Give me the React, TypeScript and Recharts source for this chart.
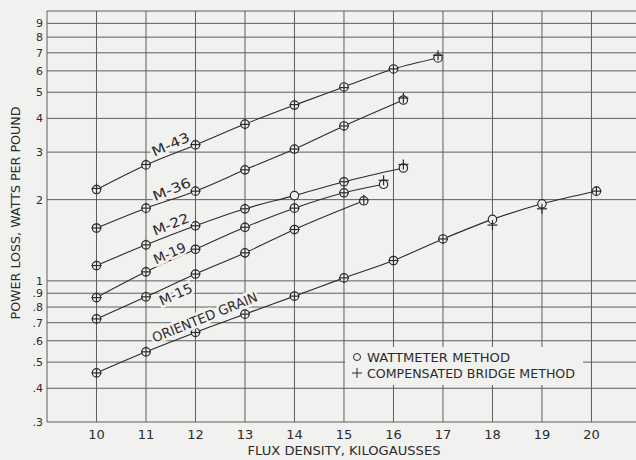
import React from 'react';
import {
  ComposedChart,
  Line,
  Scatter,
  XAxis,
  YAxis,
  ReferenceLine,
} from 'recharts';

// flux density (kilogausses) and power loss (watts per pound)
const fluxM43 = [10, 11, 12, 13, 14, 15, 16, 16.9];
const wattM43 = [2.18, 2.69, 3.19, 3.81, 4.48, 5.23, 6.1, 6.7];
const bridgeM43 = [2.2, 2.7, 3.2, 3.8, 4.5, 5.2, 6.1, 6.85];

const fluxM36 = [10, 11, 12, 13, 14, 15, 16.2];
const wattM36 = [1.57, 1.86, 2.15, 2.58, 3.08, 3.75, 4.68];
const bridgeM36 = [1.57, 1.86, 2.15, 2.58, 3.08, 3.75, 4.76];

const fluxM22 = [10, 11, 12, 13, 14, 15, 16.2];
const wattM22 = [1.14, 1.36, 1.6, 1.85, 2.07, 2.33, 2.62];
const bridgeM22 = [1.14, 1.36, 1.6, 1.85, null, 2.33, 2.7];

const fluxM19 = [10, 11, 12, 13, 14, 15, 15.8];
const wattM19 = [0.867, 1.08, 1.31, 1.58, 1.86, 2.12, 2.28];
const bridgeM19 = [0.867, 1.08, 1.31, 1.58, 1.86, 2.12, 2.36];

const fluxM15 = [10, 11, 12, 13, 14, 15.4];
const wattM15 = [0.723, 0.873, 1.06, 1.27, 1.55, 1.98];
const bridgeM15 = [0.723, 0.873, 1.06, 1.27, 1.55, 2.0];

const fluxOriented = [10, 11, 12, 13, 14, 15, 16, 17, 18, 19, 20.1];
const wattOriented = [0.456, 0.546, 0.644, 0.753, 0.878, 1.026, 1.19, 1.43, 1.69, 1.93, 2.15];
const bridgeOriented = [0.456, 0.546, 0.644, 0.753, 0.878, 1.026, 1.19, 1.43, 1.61, 1.85, 2.15];

const xTicks = [10, 11, 12, 13, 14, 15, 16, 17, 18, 19, 20];
const xGrid = [9, 10, 11, 12, 13, 14, 15, 16, 17, 18, 19, 20];
const yTicks = [0.3, 0.4, 0.5, 0.6, 0.7, 0.8, 0.9, 1, 2, 3, 4, 5, 6, 7, 8, 9];
const yGrid = [0.3, 0.4, 0.5, 0.6, 0.7, 0.8, 0.9, 1, 2, 3, 4, 5, 6, 7, 8, 9, 10];

const PAPER = '#f1f1ef';
const INK = '#2b2b2b';
const GRID = '#5e5e5e';
const FONT = '"DejaVu Sans", sans-serif';

const toPoints = (xs: number[], ys: (number | null)[]) =>
  xs.map((x, i) => ({ x, y: ys[i] })).filter(p => p.y != null);

const curves = [
  { name: 'M-43', flux: fluxM43, watt: wattM43, bridge: bridgeM43 },
  { name: 'M-36', flux: fluxM36, watt: wattM36, bridge: bridgeM36 },
  { name: 'M-22', flux: fluxM22, watt: wattM22, bridge: bridgeM22 },
  { name: 'M-19', flux: fluxM19, watt: wattM19, bridge: bridgeM19 },
  { name: 'M-15', flux: fluxM15, watt: wattM15, bridge: bridgeM15 },
  { name: 'ORIENTED GRAIN', flux: fluxOriented, watt: wattOriented, bridge: bridgeOriented },
];

const allWatt = curves.flatMap(c => toPoints(c.flux, c.watt));
const allBridge = curves.flatMap(c => toPoints(c.flux, c.bridge));

const CircleMark = (props: any) => {
  const { cx, cy } = props;
  if (cx == null || cy == null) return null;
  return <circle cx={cx} cy={cy} r={4.2} fill={PAPER} stroke={INK} strokeWidth={1.2} />;
};

const CrossMark = (props: any) => {
  const { cx, cy } = props;
  if (cx == null || cy == null) return null;
  return (
    <g stroke={INK} strokeWidth={1.2}>
      <line x1={cx - 5} y1={cy} x2={cx + 5} y2={cy} />
      <line x1={cx} y1={cy - 5} x2={cx} y2={cy + 5} />
    </g>
  );
};

const formatY = (v: number) => {
  if (v >= 1) return String(v);
  return '.' + Math.round(v * 10);
};

// curve labels written along the lines
const labels = [
  { text: 'M-43', x: 171, y: 145, angle: -24, len: 40 },
  { text: 'M-36', x: 172, y: 190, angle: -22, len: 40 },
  { text: 'M-22', x: 171, y: 225, angle: -22, len: 38 },
  { text: 'M-19', x: 170, y: 254, angle: -24, len: 34 },
  { text: 'M-15', x: 176, y: 295, angle: -24, len: 35 },
  { text: 'ORIENTED GRAIN', x: 205, y: 318, angle: -22, len: 112 },
];

const Overlay = () => (
  <svg
    width={636}
    height={460}
    style={{ position: 'absolute', left: 0, top: 0, pointerEvents: 'none' }}
  >
    {labels.map(l => (
      <text
        key={l.text}
        x={l.x}
        y={l.y}
        transform={`rotate(${l.angle} ${l.x} ${l.y})`}
        textAnchor="middle"
        dominantBaseline="middle"
        fontFamily={FONT}
        fontSize={13.5}
        fill={INK}
        stroke={PAPER}
        strokeWidth={5}
        paintOrder="stroke"
        textLength={l.len}
        lengthAdjust="spacingAndGlyphs"
      >
        {l.text}
      </text>
    ))}

    {/* legend */}
    <rect x={345} y={347} width={238} height={38} fill={PAPER} />
    <circle cx={357} cy={357} r={3.5} fill="none" stroke={INK} strokeWidth={1} />
    <text x={367} y={362} fontFamily={FONT} fontSize={12.5} fill={INK} textLength={143} lengthAdjust="spacingAndGlyphs">
      WATTMETER METHOD
    </text>
    <line x1={352} y1={373} x2={362} y2={373} stroke={INK} strokeWidth={1} />
    <line x1={357} y1={368} x2={357} y2={378} stroke={INK} strokeWidth={1} />
    <text x={367} y={378} fontFamily={FONT} fontSize={12.5} fill={INK} textLength={208} lengthAdjust="spacingAndGlyphs">
      COMPENSATED BRIDGE METHOD
    </text>

    {/* axis titles */}
    <text
      x={16}
      y={213}
      transform="rotate(-90 16 213)"
      textAnchor="middle"
      dominantBaseline="middle"
      fontFamily={FONT}
      fontSize={12.5}
      fill={INK}
      textLength={213}
      lengthAdjust="spacingAndGlyphs"
    >
      POWER LOSS, WATTS PER POUND
    </text>
    <text
      x={344}
      y={455}
      textAnchor="middle"
      fontFamily={FONT}
      fontSize={12.5}
      fill={INK}
      textLength={193}
      lengthAdjust="spacingAndGlyphs"
    >
      FLUX DENSITY, KILOGAUSSES
    </text>
  </svg>
);

export default function App() {
  return (
    <div style={{ position: 'absolute', left: 0, top: 0, width: 636, height: 460, background: PAPER }}>
      <ComposedChart width={636} height={460} margin={{ top: 11, right: 0, bottom: 0, left: 0 }}>
        <XAxis
          type="number"
          dataKey="x"
          domain={[9, 20.9]}
          ticks={xTicks}
          interval={0}
          allowDataOverflow
          height={38}
          axisLine={false}
          tickLine={false}
          tickSize={6}
          tickMargin={2}
          tick={{ fontSize: 13, fill: INK, fontFamily: FONT }}
        />
        <YAxis
          type="number"
          dataKey="y"
          scale="log"
          domain={[0.3, 10]}
          ticks={yTicks}
          interval={0}
          allowDataOverflow
          width={47}
          axisLine={false}
          tickLine={false}
          tickSize={3}
          tickMargin={1}
          tickFormatter={formatY}
          tick={{ fontSize: 11, fill: INK, fontFamily: FONT }}
        />
        {yGrid.map(v => (
          <ReferenceLine key={'h' + v} y={v} stroke={GRID} strokeWidth={1} ifOverflow="extendDomain" />
        ))}
        {xGrid.map(v => (
          <ReferenceLine key={'v' + v} x={v} stroke={GRID} strokeWidth={1} ifOverflow="extendDomain" />
        ))}
        {curves.map(c => (
          <Line
            key={c.name}
            data={toPoints(c.flux, c.watt)}
            dataKey="y"
            type="monotone"
            stroke={INK}
            strokeWidth={1.1}
            dot={false}
            activeDot={false}
            isAnimationActive={false}
          />
        ))}
        <Scatter data={allWatt} dataKey="y" shape={<CircleMark />} isAnimationActive={false} />
        <Scatter data={allBridge} dataKey="y" shape={<CrossMark />} isAnimationActive={false} />
      </ComposedChart>
      <Overlay />
    </div>
  );
}
